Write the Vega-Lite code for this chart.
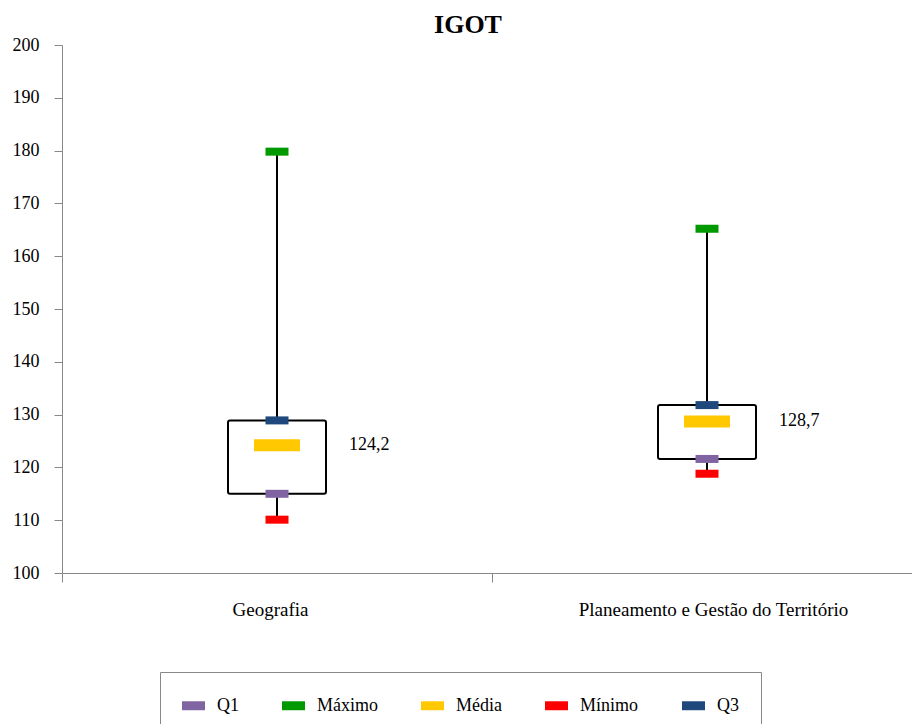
{
  "$schema": "https://vega.github.io/schema/vega-lite/v6.json",
  "autosize": {"type": "none"},
  "width": 850,
  "height": 528,
  "padding": {"left": 62, "top": 45, "right": 0, "bottom": 151},
  "background": "white",
  "title": {"text": "IGOT", "font": "Liberation Serif", "fontSize": 26, "fontWeight": "bold", "color": "black", "anchor": "middle", "dx": -19, "dy": 10, "offset": 8},
  "config": {"view": {"stroke": null}, "font": "Liberation Serif"},
  "data": {"values": [
    {"curso": "Geografia", "Mínimo": 110.1, "Q1": 115.0, "Média": 124.2, "Q3": 128.9, "Máximo": 179.8, "rotulo": "124,2"},
    {"curso": "Planeamento e Gestão do Território", "Mínimo": 118.8, "Q1": 121.6, "Média": 128.7, "Q3": 131.8, "Máximo": 165.2, "rotulo": "128,7"}
  ]},
  "encoding": {
    "x": {
      "field": "curso", "type": "nominal", "sort": null, "title": null,
      "scale": {"range": [0, 860], "paddingInner": 0, "paddingOuter": 0},
      "axis": {"labelAngle": 0, "labelFont": "Liberation Serif", "labelFontSize": 19, "labelColor": "black", "labelLimit": 500,
        "labelOffset": {"condition": {"test": "datum.value == 'Geografia'", "value": -7}, "value": 6},
        "tickBand": "extent", "tickSize": 9, "tickColor": "#888", "domainColor": "#888", "labelPadding": 18, "grid": false}
    }
  },
  "layer": [
    {
      "mark": {"type": "rule", "color": "black", "strokeWidth": 2},
      "encoding": {
        "y": {"field": "Máximo", "type": "quantitative", "title": null, "scale": {"domain": [100, 200], "nice": false},
          "axis": {"values": [100, 110, 120, 130, 140, 150, 160, 170, 180, 190, 200], "labelFont": "Liberation Serif", "labelFontSize": 18, "labelColor": "black", "tickSize": 8, "labelPadding": 15, "tickColor": "#888", "domainColor": "#888", "grid": false}},
        "y2": {"field": "Mínimo"}
      }
    },
    {
      "mark": {"type": "bar", "size": 98, "fill": "white", "stroke": "black", "strokeWidth": 2, "cornerRadius": 2},
      "encoding": {
        "y": {"field": "Q1", "type": "quantitative", "title": null},
        "y2": {"field": "Q3"}
      }
    },
    {
      "transform": [{"fold": ["Q1", "Máximo", "Mínimo", "Q3"], "as": ["serie", "valor"]}],
      "mark": {"type": "tick", "size": 23, "thickness": 8, "opacity": 1},
      "encoding": {
        "y": {"field": "valor", "type": "quantitative", "title": null},
        "color": {"field": "serie", "type": "nominal",
          "scale": {"domain": ["Q1", "Máximo", "Média", "Mínimo", "Q3"], "range": ["#8064A2", "#009900", "#FFC800", "#FF0000", "#1F497D"]},
          "legend": {"title": null, "orient": "none", "legendX": 98, "legendY": 627, "direction": "horizontal", "columns": 5,
            "symbolType": "M-1,-0.39H1V0.39H-1Z", "symbolSize": 529, "symbolStrokeWidth": 0, "symbolOpacity": 1,
            "labelFont": "Liberation Serif", "labelFontSize": 18, "labelColor": "black", "labelOffset": 12,
            "columnPadding": 43, "padding": 22, "strokeColor": "#888", "fillColor": "white"}}
      }
    },
    {
      "transform": [{"fold": ["Média"], "as": ["serie", "valor"]}],
      "mark": {"type": "tick", "size": 46, "thickness": 12, "opacity": 1},
      "encoding": {
        "y": {"field": "valor", "type": "quantitative", "title": null},
        "color": {"field": "serie", "type": "nominal",
          "scale": {"domain": ["Q1", "Máximo", "Média", "Mínimo", "Q3"], "range": ["#8064A2", "#009900", "#FFC800", "#FF0000", "#1F497D"]}}
      }
    },
    {
      "mark": {"type": "text", "align": "left", "baseline": "middle", "dx": 72, "font": "Liberation Serif", "fontSize": 18, "color": "black"},
      "encoding": {
        "y": {"field": "Média", "type": "quantitative", "title": null},
        "text": {"field": "rotulo"}
      }
    }
  ]
}
